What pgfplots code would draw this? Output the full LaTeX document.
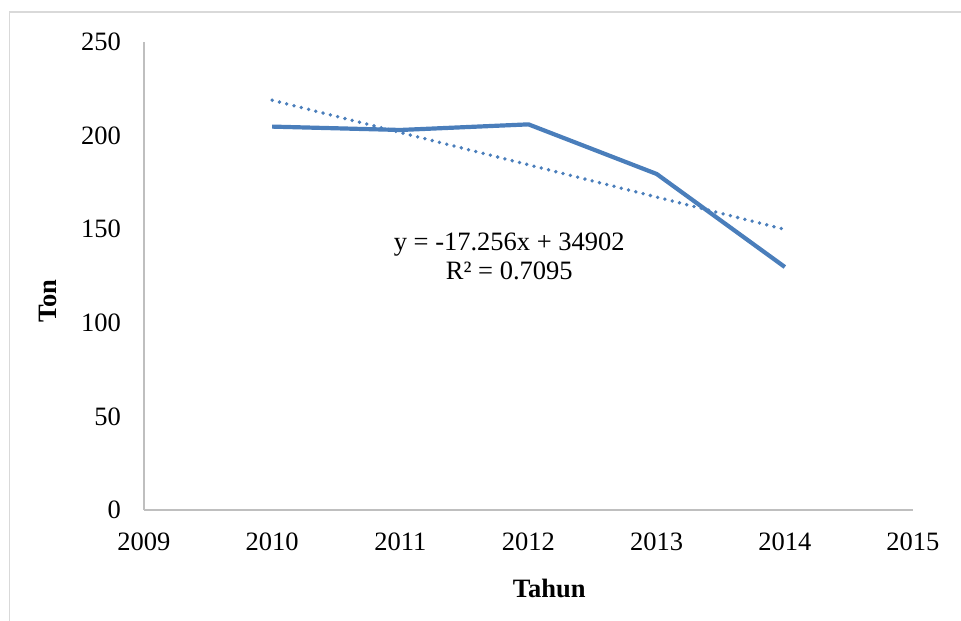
\documentclass[border=0pt]{standalone}
\usepackage{fontspec}
\setmainfont{Liberation Serif}
\usepackage{pgfplots}
\pgfplotsset{compat=1.18}
\definecolor{exblue}{HTML}{4A7EBB}
\definecolor{axgray}{HTML}{BFBFBF}
\definecolor{frgray}{HTML}{D9D9D9}
\begin{document}
\fontsize{26.5}{31}\selectfont
\begin{tikzpicture}
\useasboundingbox (0,0) rectangle (961pt,621pt);
\draw[frgray, line width=1.5pt] (9.5pt,0) -- (9.5pt,609pt) -- (961pt,609pt);
\begin{axis}[
  scale only axis,
  width=769pt, height=468pt,
  at={(144pt,111pt)}, anchor=south west,
  xmin=2009, xmax=2015, ymin=0, ymax=250,
  xtick={2009,2010,...,2015}, ytick={0,50,...,250},
  axis x line=bottom, axis y line=left,
  axis line style={-, axgray, line width=1.5pt},
  major tick length=0pt,
  /pgf/number format/1000 sep={},
  /pgf/number format/assume math mode=true,
  tick label style={font=\fontsize{26.5}{31}\selectfont, inner sep=0pt},
  xticklabel style={anchor=north, yshift=-23pt},
  yticklabel style={anchor=east, xshift=-23pt},
  xlabel={\textbf{Tahun}}, ylabel={\textbf{Ton}},
  label style={font=\fontsize{26.5}{31}\selectfont},
  xlabel style={at={(rel axis cs:0.527,-0.1667)}, anchor=center},
  ylabel style={at={(rel axis cs:-0.1255,0.4466)}, anchor=center, rotate=0},
  clip=false,
]
\addplot[exblue, line width=4.2pt, line join=round] coordinates {
  (2010,204.8) (2011,203.0) (2012,206.0) (2013,179.5) (2014,129.8)
};
\addplot[exblue, line width=3.8pt, line cap=round, dash pattern=on 0pt off 7.5pt] coordinates {
  (2010,218.9) (2014,149.9)
};
\node[align=center, inner sep=0pt, font=\fontsize{26.5}{29}\selectfont] at (axis cs:2011.85,135.7) {y = -17.256x + 34902\\R² = 0.7095};
\end{axis}
\end{tikzpicture}
\end{document}
